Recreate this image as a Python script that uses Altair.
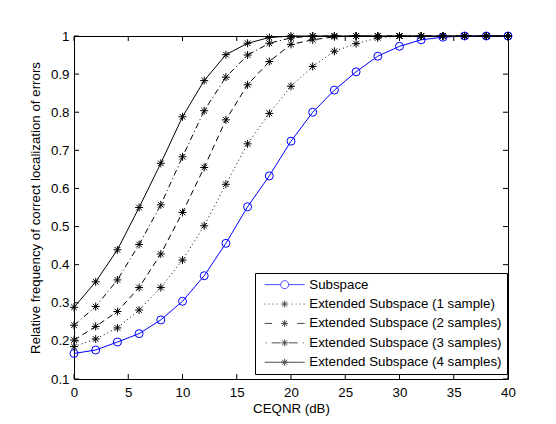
import altair as alt
import pandas as pd

# ---- data ----
cnr_db = [0, 2, 4, 6, 8, 10, 12, 14, 16, 18, 20, 22, 24, 26, 28, 30, 32, 34, 36, 38, 40]

subspace = [0.167, 0.176, 0.197, 0.219, 0.255, 0.304, 0.371, 0.456, 0.552, 0.633, 0.724,
            0.800, 0.858, 0.906, 0.947, 0.973, 0.990, 0.997, 1.0, 1.0, 1.0]
ext_1 = [0.185, 0.205, 0.234, 0.281, 0.340, 0.412, 0.502, 0.611, 0.717, 0.797, 0.868,
         0.920, 0.960, 0.980, 0.995, 1.0, 1.0, 1.0, 1.0, 1.0, 1.0]
ext_2 = [0.202, 0.238, 0.277, 0.340, 0.428, 0.537, 0.655, 0.780, 0.872, 0.933, 0.978,
         0.990, 0.998, 1.0, 1.0, 1.0, 1.0, 1.0, 1.0, 1.0, 1.0]
ext_3 = [0.241, 0.290, 0.360, 0.453, 0.557, 0.683, 0.804, 0.892, 0.950, 0.981, 0.995,
         1.0, 1.0, 1.0, 1.0, 1.0, 1.0, 1.0, 1.0, 1.0, 1.0]
ext_4 = [0.288, 0.355, 0.439, 0.550, 0.666, 0.788, 0.883, 0.951, 0.981, 0.996, 1.0,
         1.0, 1.0, 1.0, 1.0, 1.0, 1.0, 1.0, 1.0, 1.0, 1.0]

series_names = [
    "Subspace",
    "Extended Subspace (1 sample)",
    "Extended Subspace (2 samples)",
    "Extended Subspace (3 samples)",
    "Extended Subspace (4 samples)",
]
series_values = [subspace, ext_1, ext_2, ext_3, ext_4]

x_ticks = [0, 5, 10, 15, 20, 25, 30, 35, 40]
y_ticks = [0.1, 0.2, 0.3, 0.4, 0.5, 0.6, 0.7, 0.8, 0.9, 1.0]

# ---- styles ----
FONT = "Liberation Sans"
FS = 13.3
colors = ["#0000ff", "black", "black", "black", "black"]
dashes = [None, [1, 3], [6, 4], [6, 3, 1, 3], None]

ASTER = "M-1,0L1,0M0,-1L0,1M-0.7,-0.7L0.7,0.7M-0.7,0.7L0.7,-0.7"
L_ASTER = "M-0.7,0L0.7,0M0,-0.7L0,0.7M-0.5,-0.5L0.5,0.5M-0.5,0.5L0.5,-0.5"
L_CIRCLE = "M0.8,0A0.8,0.8,0,1,1,-0.8,0A0.8,0.8,0,1,1,0.8,0"
dots = "".join(f"M{v:.1f},0L{v + 0.2:.1f},0" for v in [-4, -3.2, -2.4, -1.6, 1.4, 2.2, 3.0, 3.8])
legend_paths = [
    "M-4,0L-0.8,0M0.8,0L4,0" + L_CIRCLE,
    dots + L_ASTER,
    "M-4,0L-2.5,0M2.5,0L4,0" + L_ASTER,
    "M-3.8,0L-3.6,0M-2.6,0L-0.8,0M0.8,0L2.6,0M3.6,0L3.8,0" + L_ASTER,
    "M-4,0L4,0" + L_ASTER,
]

rows = []
for name, vals in zip(series_names, series_values):
    for xv, yv in zip(cnr_db, vals):
        rows.append({"series": name, "x": xv, "y": yv})
df = pd.DataFrame(rows)

W, H = 434, 343
xs = alt.Scale(domain=[0, 40], nice=False, zero=False)
ys = alt.Scale(domain=[0.1, 1.0], nice=False, zero=False)

axis_common = dict(ticks=False, domain=False, grid=False, labelFont=FONT, titleFont=FONT,
                   labelFontSize=FS, titleFontSize=FS, titleFontWeight="normal",
                   labelColor="black", titleColor="black")
x_enc = alt.X("x:Q", scale=xs, axis=alt.Axis(values=x_ticks, format="d", title="CEQNR (dB)",
                                             labelPadding=6, titlePadding=3, labelFlush=False,
                                             labelOverlap=False, **axis_common))
y_enc = alt.Y("y:Q", scale=ys, axis=alt.Axis(values=y_ticks, format=".1~f",
                                             title="Relative frequency of correct localization of errors",
                                             labelPadding=5, titlePadding=8, labelOverlap=False,
                                             **axis_common))

layers = []
for i, name in enumerate(series_names):
    base = alt.Chart(df).transform_filter(alt.datum.series == name)
    line_kw = dict(color=colors[i], strokeWidth=1)
    if dashes[i] is not None:
        line_kw["strokeDash"] = dashes[i]
    layers.append(base.mark_line(**line_kw).encode(x=x_enc, y=y_enc))
for i, name in enumerate(series_names):
    base = alt.Chart(df).transform_filter(alt.datum.series == name)
    shape = "circle" if i == 0 else ASTER
    layers.append(base.mark_point(shape=shape, size=64, filled=False, color=colors[i],
                                  strokeWidth=1, opacity=1).encode(x=x_enc, y=y_enc))

# inward ticks (matlab style)
xt = pd.DataFrame({"x": x_ticks})
yt = pd.DataFrame({"y": y_ticks})
layers.append(alt.Chart(xt).mark_rule(color="black", strokeWidth=1).encode(
    x=x_enc, y=alt.value(H), y2=alt.value(H - 5)))
layers.append(alt.Chart(xt).mark_rule(color="black", strokeWidth=1).encode(
    x=x_enc, y=alt.value(0), y2=alt.value(5)))
layers.append(alt.Chart(yt).mark_rule(color="black", strokeWidth=1).encode(
    y=y_enc, x=alt.value(0), x2=alt.value(5)))
layers.append(alt.Chart(yt).mark_rule(color="black", strokeWidth=1).encode(
    y=y_enc, x=alt.value(W), x2=alt.value(W - 5)))

# legend driven by an empty layer with explicit scale domains
leg = alt.Legend(orient="none", legendX=181, legendY=237, title=None, padding=5,
                 rowPadding=5.4, symbolOffset=18, labelOffset=18, symbolSize=100,
                 symbolStrokeWidth=1, labelFont=FONT, labelFontSize=FS, labelColor="black",
                 labelLimit=400, strokeColor="black", fillColor="white", cornerRadius=0)
legend_df = pd.DataFrame({"series": series_names})
layers.append(alt.Chart(legend_df).transform_filter("false").mark_point(filled=False).encode(
    shape=alt.Shape("series:N", scale=alt.Scale(domain=series_names, range=legend_paths), legend=leg),
    color=alt.Color("series:N", scale=alt.Scale(domain=series_names, range=colors), legend=leg),
))

chart = alt.layer(*layers).properties(
    width=W, height=H,
    padding={"left": 66, "top": 28, "right": 40, "bottom": 40},
    autosize=alt.AutoSizeParams(type="none"),
    background="white",
).configure_view(stroke="black", strokeWidth=1)

chart.save("out.html", embed_options={"renderer": "svg", "actions": False})
